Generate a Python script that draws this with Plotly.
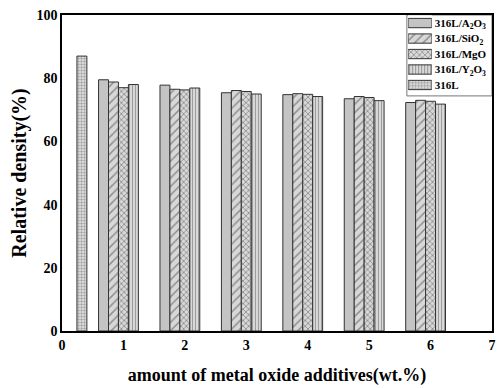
import plotly.graph_objects as go

x_add = [1, 2, 3, 4, 5, 6]
a2o3 = [79.5, 77.8, 75.4, 74.8, 73.5, 72.3]
sio2 = [78.8, 76.5, 76.1, 75.1, 74.2, 73.0]
mgo = [77.0, 76.3, 75.8, 74.9, 73.9, 72.7]
y2o3 = [78.0, 76.9, 75.0, 74.2, 72.9, 71.8]
x_pure = [0]
pure = [87.0]

names = ["316L/A<sub>2</sub>O<sub>3</sub>", "316L/SiO<sub>2</sub>", "316L/MgO",
         "316L/Y<sub>2</sub>O<sub>3</sub>", "316L"]

font_family = "Liberation Serif"

# styles per series (same order as names)
fills = ["#c4c4c4", "#d8d8d8", "#d8d8d8", "#d8d8d8", "#d8d8d8"]
shapes = ["", "/", "x", "|", "+"]
fgs = ["#444444", "#444444", "#333333", "#555555", "#555555"]
psizes = [6, 6, 4, 3, 3]
solids = [0.3, 0.25, 0.35, 0.3, 0.3]

def marker(i):
    m = dict(color=fills[i], line=dict(color="#333333", width=1))
    if shapes[i]:
        m["pattern"] = dict(shape=shapes[i], fgcolor=fgs[i], bgcolor=fills[i],
                            size=psizes[i], solidity=solids[i])
    return m

fig = go.Figure()
series = [(x_add, a2o3), (x_add, sio2), (x_add, mgo), (x_add, y2o3), (x_pure, pure)]
for i, (xs, ys) in enumerate(series):
    fig.add_trace(go.Bar(x=xs, y=ys, name=names[i], offsetgroup=str(i),
                         marker=marker(i), showlegend=False))

# legend drawn as swatches on an inset axis pair
fig.add_trace(go.Bar(
    y=names, x=[1] * len(names), orientation="h", width=0.6,
    xaxis="x2", yaxis="y2", showlegend=False, hoverinfo="skip",
    marker=dict(color=fills, line=dict(color="#333333", width=1),
                pattern=dict(shape=shapes, fgcolor=fgs, bgcolor=fills,
                             size=psizes, solidity=solids)),
))

fig.add_shape(type="rect", xref="paper", yref="paper", x0=0.802, x1=1.0, y0=0.744, y1=1.0,
              line=dict(color="#777777", width=1), fillcolor="white", layer="below")

fig.update_layout(
    width=496, height=380,
    margin=dict(l=54, r=12, t=7, b=57, autoexpand=False),
    paper_bgcolor="white", plot_bgcolor="white",
    barmode="group", bargap=0.19, bargroupgap=0,
    font=dict(family=font_family, size=13, color="black"),
    showlegend=False,
    xaxis=dict(range=[0, 7], tickmode="array", tickvals=[0, 1, 2, 3, 4, 5, 6, 7],
               showline=True, linecolor="black", linewidth=1.5, mirror=True,
               showgrid=False, zeroline=False, ticks="", automargin=False,
               ticklabeloverflow="allow",
               tickfont=dict(family=font_family, size=14, weight="bold"),
               title=dict(text="<b>amount of metal oxide additives(wt.%)</b>",
                          font=dict(family=font_family, size=18), standoff=17)),
    yaxis=dict(range=[0, 100], tickmode="array", tickvals=[0, 20, 40, 60, 80, 100],
               showline=True, linecolor="black", linewidth=1.5, mirror=True,
               showgrid=False, zeroline=False, ticks="", automargin=False,
               ticklabeloverflow="allow",
               tickfont=dict(family=font_family, size=14, weight="bold"),
               title=dict(text="<b>Relative density(%)</b>",
                          font=dict(family=font_family, size=20), standoff=11)),
    xaxis2=dict(domain=[0.805, 0.860], range=[0, 1], anchor="y2", visible=False,
                fixedrange=True),
    yaxis2=dict(domain=[0.754, 0.999], anchor="x2", side="right", type="category",
                categoryorder="array", categoryarray=names, range=[4.5, -0.5],
                showline=False, showgrid=False, zeroline=False, ticks="",
                automargin=False, ticklabeloverflow="allow", ticklabelstandoff=2,
                tickfont=dict(family=font_family, size=11, weight="bold", color="black")),
)

fig.write_html("out.html")
